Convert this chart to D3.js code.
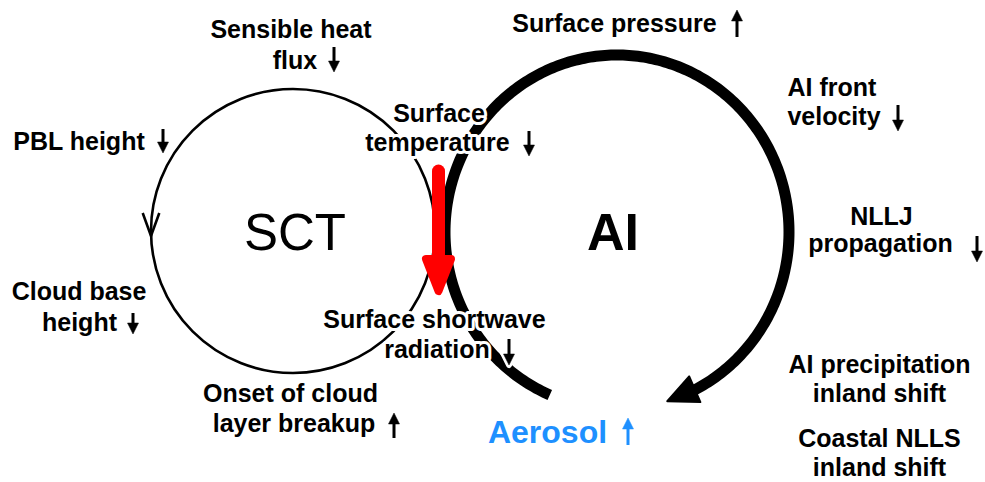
<!DOCTYPE html>
<html>
<head>
<meta charset="utf-8">
<script src="https://d3js.org/d3.v7.min.js"></script>
<style>
  body { margin: 0; background: #fff; }
  text { font-family: "Liberation Sans", Arial, sans-serif; }
</style>
</head>
<body>
<div id="chart"></div>
<script>
// text blocks around the two loops
var labelText = [
  ["Sensible heat", "flux"],
  ["PBL height"],
  ["Cloud base", "height"],
  ["Onset of cloud", "layer breakup"],
  ["Surface", "temperature"],
  ["Surface shortwave", "radiation"],
  ["Surface pressure"],
  ["AI front", "velocity"],
  ["NLLJ", "propagation"],
  ["AI precipitation", "inland shift"],
  ["Coastal NLLS", "inland shift"]
];
// +1 increase, -1 decrease, 0 no marker
var labelTrend = [-1, -1, -1, 1, -1, -1, 1, -1, -1, 0, 0];
var loopNames = ["SCT", "AI"];
var aerosolText = "Aerosol";
var aerosolTrend = 1;

// layout (pixels)
var W = 985, H = 482;
var labelPos = [            // [centre x, baseline] per line
  [[291, 38], [295, 69]],
  [[79, 150]],
  [[79, 300], [79.5, 331]],
  [[290.5, 402], [294, 432]],
  [[439, 122], [437.5, 151]],
  [[434.5, 328], [437, 358]],
  [[614.5, 31.5]],
  [[832, 96], [834, 125]],
  [[881.5, 225], [880.5, 252]],
  [[879.5, 373], [879.5, 402]],
  [[879.5, 447], [879.5, 476]]
];
var arrowPos = [            // x, top, bottom
  [334, 47, 72], [163, 129, 153], [133, 313, 334], [394, 413, 438],
  [529, 131, 156], [509, 339, 365], [737, 10, 37], [898, 105, 131],
  [977, 236, 262], null, null
];
var sct = {cx: 293, cy: 231, r: 142};
var ai = {cx: 617, cy: 232, rx: 172, ry: 177, a0: 113, a1: 433};

var svg = d3.select("#chart").append("svg")
  .attr("width", W).attr("height", H);

// SCT loop: thin circle with an open chevron on the left side
svg.append("circle")
  .attr("cx", sct.cx).attr("cy", sct.cy).attr("r", sct.r)
  .attr("fill", "none").attr("stroke", "#000").attr("stroke-width", 2.6);
svg.append("path")
  .attr("d", "M142.7,213L151,236L159.3,213")
  .attr("fill", "none").attr("stroke", "#000").attr("stroke-width", 2.6);

// AI loop: thick elliptical arc, clockwise, ending in an arrowhead
function ell(deg) {
  var t = deg * Math.PI / 180;
  return [ai.cx + ai.rx * Math.cos(t), ai.cy + ai.ry * Math.sin(t)];
}
var tip = ell(ai.a1);
var back = ell(ai.a1 - 12);
var dx = tip[0] - back[0], dy = tip[1] - back[1];
var len = Math.sqrt(dx * dx + dy * dy);
dx /= len; dy /= len;
var headL = 30, headW = 14;
var base = [tip[0] - headL * dx, tip[1] - headL * dy];

svg.append("path")
  .attr("d", d3.line()(d3.range(ai.a0, ai.a1 - 7, 1).map(ell)))
  .attr("fill", "none").attr("stroke", "#000").attr("stroke-width", 11);
svg.append("path")
  .attr("d", "M" + tip + "L" + [base[0] - headW * dy, base[1] + headW * dx] +
    "L" + [base[0] + headW * dy, base[1] - headW * dx] + "Z")
  .attr("fill", "#000").attr("stroke", "#000").attr("stroke-width", 2)
  .attr("stroke-linejoin", "round");

// red link arrow between the loops
svg.append("line")
  .attr("x1", 438.5).attr("y1", 171).attr("x2", 438.5).attr("y2", 262)
  .attr("stroke", "red").attr("stroke-width", 13).attr("stroke-linecap", "round");
svg.append("path")
  .attr("d", "M426,259L451,259L438.5,291Z")
  .attr("fill", "red").attr("stroke", "red").attr("stroke-width", 8)
  .attr("stroke-linejoin", "round");

function trendArrow(x, y0, y1, dir, color) {
  var hl = 11, hw = 5.5;
  var tipY = dir > 0 ? y0 : y1;
  var baseY = dir > 0 ? y0 + hl : y1 - hl;
  var tailY = dir > 0 ? y1 : y0;
  var g = svg.append("g");
  [["#fff", 6], [color, 0]].forEach(function (s) {
    g.append("line")
      .attr("x1", x).attr("x2", x).attr("y1", tailY).attr("y2", baseY)
      .attr("stroke", s[0]).attr("stroke-width", 3 + s[1]);
    g.append("path")
      .attr("d", "M" + (x - hw) + "," + baseY + "L" + (x + hw) + "," + baseY + "L" + x + "," + tipY + "Z")
      .attr("fill", s[0]).attr("stroke", s[0]).attr("stroke-width", s[1] || 0.5)
      .attr("stroke-linejoin", "round");
  });
}

labelText.forEach(function (lines, i) {
  lines.forEach(function (t, j) {
    svg.append("text")
      .attr("x", labelPos[i][j][0]).attr("y", labelPos[i][j][1])
      .attr("text-anchor", "middle")
      .attr("font-size", 25).attr("font-weight", "bold")
      .attr("fill", "#000")
      .attr("stroke", "#fff").attr("stroke-width", 6)
      .attr("stroke-linejoin", "round").attr("paint-order", "stroke")
      .text(t);
  });
  if (labelTrend[i] !== 0) {
    var a = arrowPos[i];
    trendArrow(a[0], a[1], a[2], labelTrend[i], "#000");
  }
});

svg.append("text")
  .attr("x", 547.5).attr("y", 443).attr("text-anchor", "middle")
  .attr("font-size", 32).attr("font-weight", "bold").attr("fill", "#1e90ff")
  .text(aerosolText);
trendArrow(628, 418, 445, aerosolTrend, "#1e90ff");

// loop names
svg.append("text")
  .attr("x", 295).attr("y", 250).attr("text-anchor", "middle")
  .attr("font-size", 51).attr("fill", "#000").text(loopNames[0]);
svg.append("text")
  .attr("x", 613).attr("y", 250).attr("text-anchor", "middle")
  .attr("font-size", 52).attr("font-weight", "bold").attr("fill", "#000").text(loopNames[1]);
</script>
</body>
</html>
